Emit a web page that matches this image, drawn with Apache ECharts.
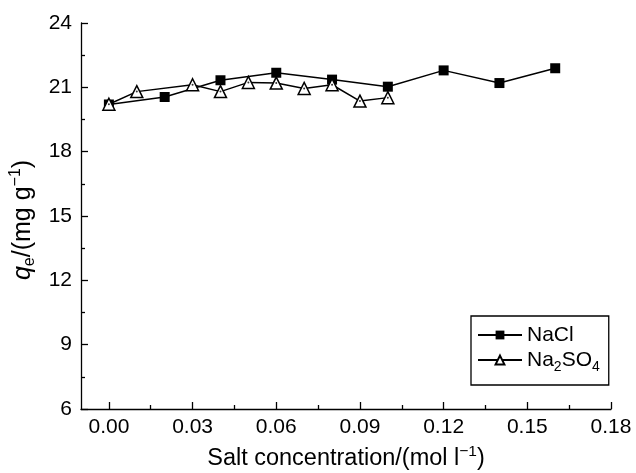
<!DOCTYPE html>
<html>
<head>
<meta charset="utf-8">
<script src="https://cdn.jsdelivr.net/npm/echarts@6/dist/echarts.min.js"></script>
<style>
html,body{margin:0;padding:0;background:#fff;}
#chart{width:636px;height:473px;}
</style>
</head>
<body>
<div id="chart"></div>
<script>
// ---- data ----
var naclX = [0, 0.02, 0.04, 0.06, 0.08, 0.10, 0.12, 0.14, 0.16];
var naclY = [20.2, 20.55, 21.33, 21.68, 21.36, 21.03, 21.79, 21.2, 21.89];
var na2so4X = [0, 0.01, 0.03, 0.04, 0.05, 0.06, 0.07, 0.08, 0.09, 0.10];
var na2so4Y = [20.21, 20.8, 21.12, 20.8, 21.23, 21.2, 20.95, 21.12, 20.36, 20.52];
var xTicks = [0, 0.03, 0.06, 0.09, 0.12, 0.15, 0.18];
var xMinorTicks = [0.015, 0.045, 0.075, 0.105, 0.135, 0.165];
var seriesNames = ['NaCl', 'Na2SO4'];

function pairs(xs, ys) { return xs.map(function (x, i) { return [x, ys[i]]; }); }

var FONT = 'Liberation Sans';
var chart = echarts.init(document.getElementById('chart'));
chart.setOption({
  animation: false,
  backgroundColor: '#fff',
  textStyle: { fontFamily: FONT, color: '#000' },
  grid: { left: 81, top: 23, right: 25, bottom: 64, containLabel: false, outerBoundsMode: 'none' },
  xAxis: [{
    type: 'value', min: -0.01, max: 0.18, position: 'bottom',
    name: 'Salt concentration/(mol l{sup|−1})',
    nameLocation: 'middle', nameGap: 35,
    nameTextStyle: {
      fontFamily: FONT, fontSize: 23.5, color: '#000', lineHeight: 30,
      rich: { sup: { fontSize: 15.5, lineHeight: 15, verticalAlign: 'top', fontFamily: FONT, color: '#000' } }
    },
    axisLine: { show: true, onZero: false, lineStyle: { color: '#000', width: 1.3 } },
    axisTick: { show: true, inside: true, length: 7, customValues: xTicks, lineStyle: { color: '#000', width: 1.3 } },
    axisLabel: { customValues: xTicks, margin: 8, fontSize: 21, color: '#000', fontFamily: FONT,
      formatter: function (v) { return v.toFixed(2); } },
    splitLine: { show: false }
  }, {
    type: 'value', min: -0.01, max: 0.18, position: 'bottom', offset: 0,
    axisLine: { show: false, onZero: false },
    axisTick: { show: true, inside: true, length: 4, customValues: xMinorTicks, lineStyle: { color: '#000', width: 1.3 } },
    axisLabel: { show: false },
    splitLine: { show: false }
  }],
  yAxis: {
    type: 'value', min: 6, max: 24, interval: 3,
    name: '{it|q}{sub|e}/(mg g{sup|−1})',
    nameLocation: 'middle', nameGap: 39, nameRotate: 90,
    nameTextStyle: {
      fontFamily: FONT, fontSize: 25, color: '#000', lineHeight: 30, padding: [0, 8, 0, 0],
      rich: {
        it: { fontStyle: 'italic', fontSize: 25, fontFamily: FONT, color: '#000' },
        sub: { fontSize: 16, lineHeight: 15, verticalAlign: 'bottom', fontFamily: FONT, color: '#000' },
        sup: { fontSize: 16, lineHeight: 15, verticalAlign: 'top', fontFamily: FONT, color: '#000' }
      }
    },
    axisLine: { show: true, onZero: false, lineStyle: { color: '#000', width: 1.3 } },
    axisTick: { show: true, inside: true, length: 7, lineStyle: { color: '#000', width: 1.3 } },
    minorTick: { show: true, splitNumber: 2, length: 4, lineStyle: { color: '#000', width: 1.3 } },
    axisLabel: { margin: 9, fontSize: 21, color: '#000', fontFamily: FONT },
    splitLine: { show: false }
  },
  legend: {
    orient: 'vertical', left: 471, top: 316,
    padding: [5, 9, 11, 6], itemGap: -3,
    borderColor: '#000', borderWidth: 1.3,
    itemWidth: 44, itemHeight: 11,
    data: seriesNames,
    formatter: function (n) { return n === 'Na2SO4' ? 'Na{sub|2}SO{sub|4}' : n; },
    textStyle: {
      fontFamily: FONT, fontSize: 21, color: '#000', lineHeight: 28,
      rich: { sub: { fontSize: 14, lineHeight: 14, verticalAlign: 'bottom', fontFamily: FONT, color: '#000' } }
    }
  },
  series: [{
    name: seriesNames[0], type: 'line', xAxisIndex: 0,
    data: pairs(naclX, naclY),
    symbol: 'rect', symbolSize: 10,
    itemStyle: { color: '#000', borderColor: '#000', borderWidth: 0 },
    lineStyle: { color: '#000', width: 1.5 },
    z: 3
  }, {
    name: seriesNames[1], type: 'line', xAxisIndex: 0,
    data: pairs(na2so4X, na2so4Y),
    symbol: 'triangle', symbolSize: 12,
    itemStyle: { color: '#fff', borderColor: '#000', borderWidth: 1.5 },
    lineStyle: { color: '#000', width: 1.5 },
    z: 4
  }, {
    name: 'dots', type: 'scatter', xAxisIndex: 0,
    data: pairs(na2so4X, na2so4Y),
    symbol: 'circle', symbolSize: 2, silent: true,
    itemStyle: { color: '#000' },
    z: 5
  }]
});
</script>
</body>
</html>
